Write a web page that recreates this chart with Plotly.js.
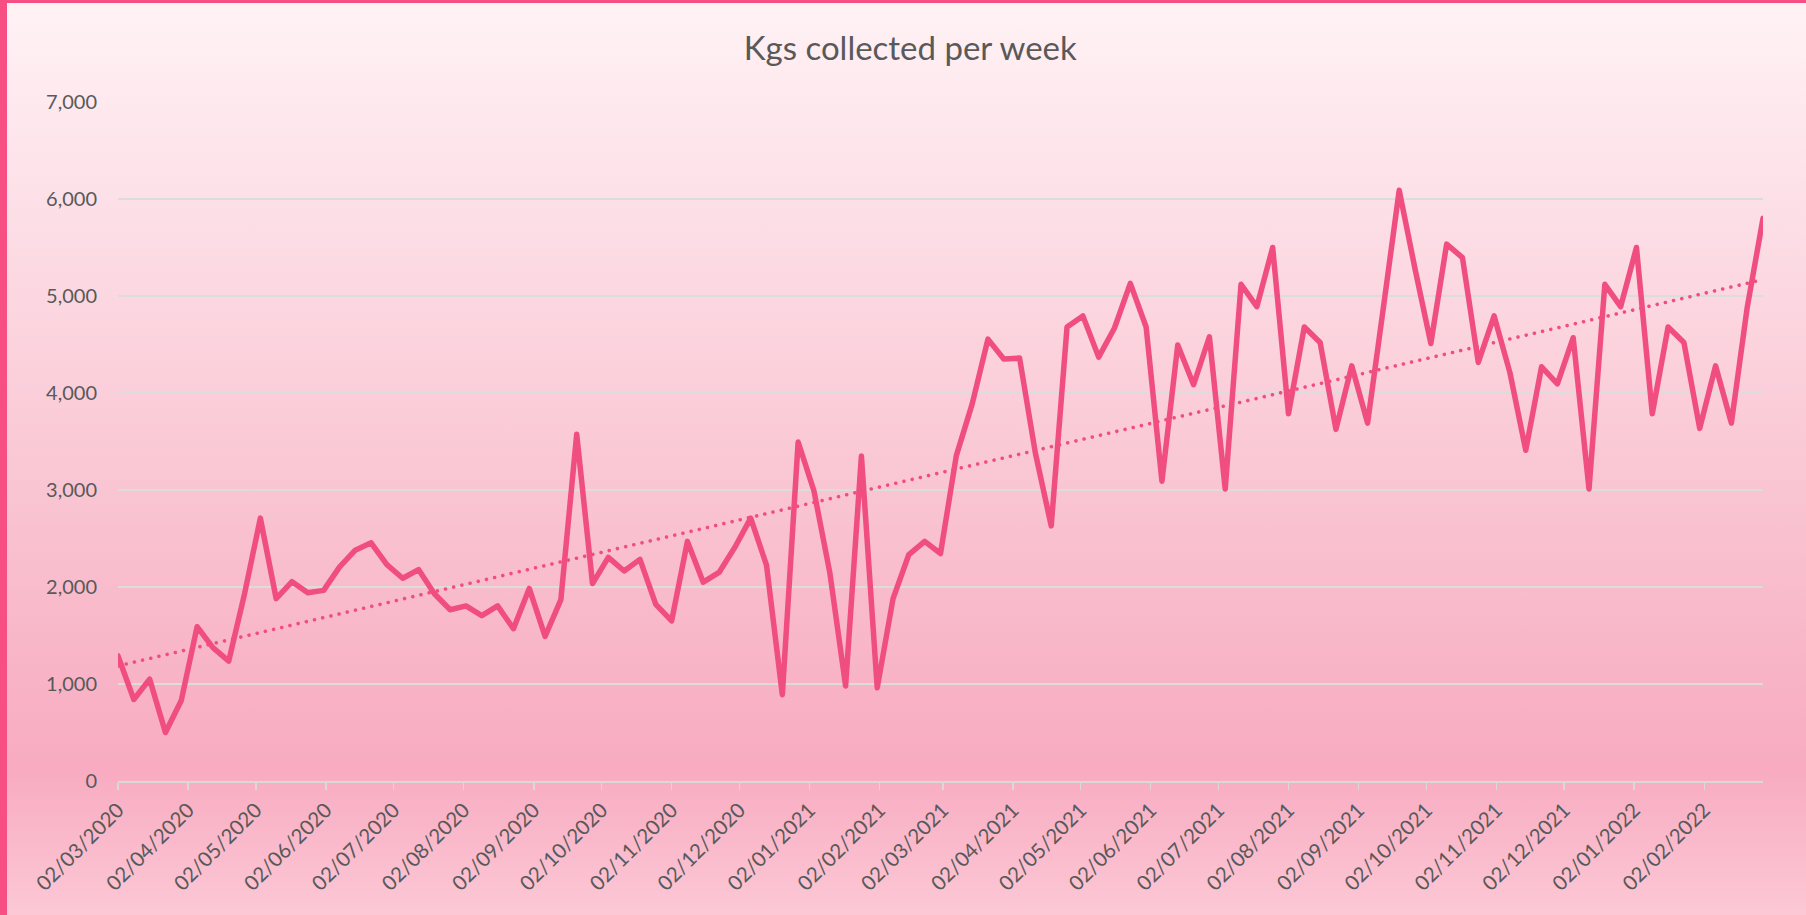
<!DOCTYPE html>
<html>
<head>
<meta charset="utf-8">
<script src="https://cdn.plot.ly/plotly-3.0.1.min.js"></script>
<style>
  html, body { margin: 0; padding: 0; width: 1806px; height: 915px; overflow: hidden; }
  #frame {
    position: absolute; left: 0; top: 0; width: 1806px; height: 915px; box-sizing: border-box;
    border-top: 3px solid #F74F83; border-left: 7px solid #F74F83;
    background: linear-gradient(to bottom, #FFF2F5 0%, #FCD9E2 30%, #F9C1D0 58%, #F8ABC1 84%, #FCC8D6 100%);
  }
  #chart { position: absolute; left: 0; top: 0; width: 1806px; height: 915px; }
</style>
</head>
<body>
<div id="frame"></div>
<div id="chart"></div>
<script>
// Weekly collection dates (Mondays)
const weekDates = [
  '2020-03-02','2020-03-09','2020-03-16','2020-03-23','2020-03-30',
  '2020-04-06','2020-04-13','2020-04-20','2020-04-27',
  '2020-05-04','2020-05-11','2020-05-18','2020-05-25',
  '2020-06-01','2020-06-08','2020-06-15','2020-06-22','2020-06-29',
  '2020-07-06','2020-07-13','2020-07-20','2020-07-27',
  '2020-08-03','2020-08-10','2020-08-17','2020-08-24','2020-08-31',
  '2020-09-07','2020-09-14','2020-09-21','2020-09-28',
  '2020-10-05','2020-10-12','2020-10-19','2020-10-26',
  '2020-11-02','2020-11-09','2020-11-16','2020-11-23','2020-11-30',
  '2020-12-07','2020-12-14','2020-12-21','2020-12-28',
  '2021-01-04','2021-01-11','2021-01-18','2021-01-25',
  '2021-02-01','2021-02-08','2021-02-15','2021-02-22',
  '2021-03-01','2021-03-08','2021-03-15','2021-03-22','2021-03-29',
  '2021-04-05','2021-04-12','2021-04-19','2021-04-26',
  '2021-05-03','2021-05-10','2021-05-17','2021-05-24','2021-05-31',
  '2021-06-07','2021-06-14','2021-06-21','2021-06-28',
  '2021-07-05','2021-07-12','2021-07-19','2021-07-26',
  '2021-08-02','2021-08-09','2021-08-16','2021-08-23','2021-08-30',
  '2021-09-06','2021-09-13','2021-09-20','2021-09-27',
  '2021-10-04','2021-10-11','2021-10-18','2021-10-25',
  '2021-11-01','2021-11-08','2021-11-15','2021-11-22','2021-11-29',
  '2021-12-06','2021-12-13','2021-12-20','2021-12-27',
  '2022-01-03','2022-01-10','2022-01-17','2022-01-24','2022-01-31',
  '2022-02-07','2022-02-14','2022-02-21','2022-02-28'
];

// Kgs collected each week
const kgsCollected = [
  1290, 840, 1050, 500, 830,
  1590, 1375, 1235, 1930,
  2710, 1880, 2055, 1940,
  1965, 2205, 2380, 2455, 2230,
  2090, 2180, 1930, 1765,
  1805, 1705, 1805, 1570, 1985,
  1490, 1870, 3575, 2035,
  2305, 2165, 2285, 1820,
  1650, 2470, 2050, 2150, 2410,
  2710, 2225, 890, 3495,
  2990, 2150, 980, 3350,
  960, 1880, 2335, 2470,
  2345, 3355, 3885, 4555, 4350,
  4360, 3380, 2630, 4680,
  4795, 4370, 4670, 5130, 4680,
  3090, 4495, 4085, 4580,
  3010, 5120, 4890, 5500,
  3785, 4680, 4520, 3625, 4280,
  3690, 4880, 6090, 5280,
  4510, 5535, 5395, 4315,
  4795, 4210, 3410, 4270, 4095,
  4570, 3010, 5120, 4890,
  5500, 3785, 4680, 4520, 3635,
  4280, 3690, 4880, 5800
];

// Monthly axis ticks
const tickDates = [
  '2020-03-02','2020-04-02','2020-05-02','2020-06-02','2020-07-02','2020-08-02',
  '2020-09-02','2020-10-02','2020-11-02','2020-12-02','2021-01-02','2021-02-02',
  '2021-03-02','2021-04-02','2021-05-02','2021-06-02','2021-07-02','2021-08-02',
  '2021-09-02','2021-10-02','2021-11-02','2021-12-02','2022-01-02','2022-02-02'
];
const tickLabels = [
  '02/03/2020','02/04/2020','02/05/2020','02/06/2020','02/07/2020','02/08/2020',
  '02/09/2020','02/10/2020','02/11/2020','02/12/2020','02/01/2021','02/02/2021',
  '02/03/2021','02/04/2021','02/05/2021','02/06/2021','02/07/2021','02/08/2021',
  '02/09/2021','02/10/2021','02/11/2021','02/12/2021','02/01/2022','02/02/2022'
];

// Linear trendline (least squares over time)
const tx = weekDates.map(d => new Date(d + 'T00:00:00Z').getTime());
const n = tx.length;
const mx = tx.reduce((a, b) => a + b, 0) / n;
const my = kgsCollected.reduce((a, b) => a + b, 0) / n;
let sxy = 0, sxx = 0;
for (let i = 0; i < n; i++) { sxy += (tx[i] - mx) * (kgsCollected[i] - my); sxx += (tx[i] - mx) * (tx[i] - mx); }
const slope = sxy / sxx;
const trendY = tx.map(t => my + slope * (t - mx));

const lineColor = '#F04E80';
const textColor = '#595959';
const fontFam = 'Lato, "Open Sans", sans-serif';

const traces = [
  {
    x: weekDates, y: kgsCollected, type: 'scatter', mode: 'lines',
    line: { color: lineColor, width: 5.5, shape: 'linear' },
    hoverinfo: 'x+y', showlegend: false
  },
  {
    x: weekDates, y: trendY, type: 'scatter', mode: 'lines',
    line: { color: lineColor, width: 3.6, dash: 'dot' },
    hoverinfo: 'skip', showlegend: false
  }
];

const layout = {
  width: 1806, height: 915,
  paper_bgcolor: 'rgba(0,0,0,0)', plot_bgcolor: 'rgba(0,0,0,0)',
  margin: { l: 118, r: 43, t: 102, b: 134 },
  title: {
    text: 'Kgs collected per week',
    font: { family: fontFam, size: 33, color: textColor },
    x: 0.504, xref: 'container', y: 0.947, yref: 'container', xanchor: 'center', yanchor: 'middle'
  },
  font: { family: fontFam, color: textColor },
  xaxis: {
    type: 'date',
    range: ['2020-03-02', '2022-02-28'],
    tickmode: 'array', tickvals: tickDates, ticktext: tickLabels,
    tickangle: -45,
    tickfont: { family: fontFam, size: 20.5, color: textColor },
    ticks: 'outside', ticklen: 7, tickwidth: 1.5, tickcolor: '#D9D9D9',
    showline: true, linecolor: '#D9D9D9', linewidth: 2,
    showgrid: false, zeroline: false
  },
  yaxis: {
    range: [0, 7000], dtick: 1000, tick0: 0,
    tickformat: ',d',
    tickfont: { family: fontFam, size: 20, color: textColor },
    showgrid: true, gridcolor: '#DCDCDC', gridwidth: 1.5,
    zeroline: false, showline: false, ticks: '',
    ticklabelstandoff: 20
  }
};

Plotly.newPlot('chart', traces, layout, { displayModeBar: false, staticPlot: true }).then(() => {
  const tr = document.querySelectorAll('.scatterlayer .trace');
  if (tr.length > 0) {
    const p0 = tr[0].querySelector('path.js-line');
    if (p0) { p0.style.strokeLinejoin = 'round'; p0.style.strokeLinecap = 'round'; }
  }
  if (tr.length > 1) {
    // round dots for the dotted trendline, like the original
    const p = tr[1].querySelector('path.js-line');
    if (p) {
      p.style.strokeLinecap = 'round';
      p.style.strokeDasharray = '0.01px,8.4px';
    }
  }
});
</script>
</body>
</html>
